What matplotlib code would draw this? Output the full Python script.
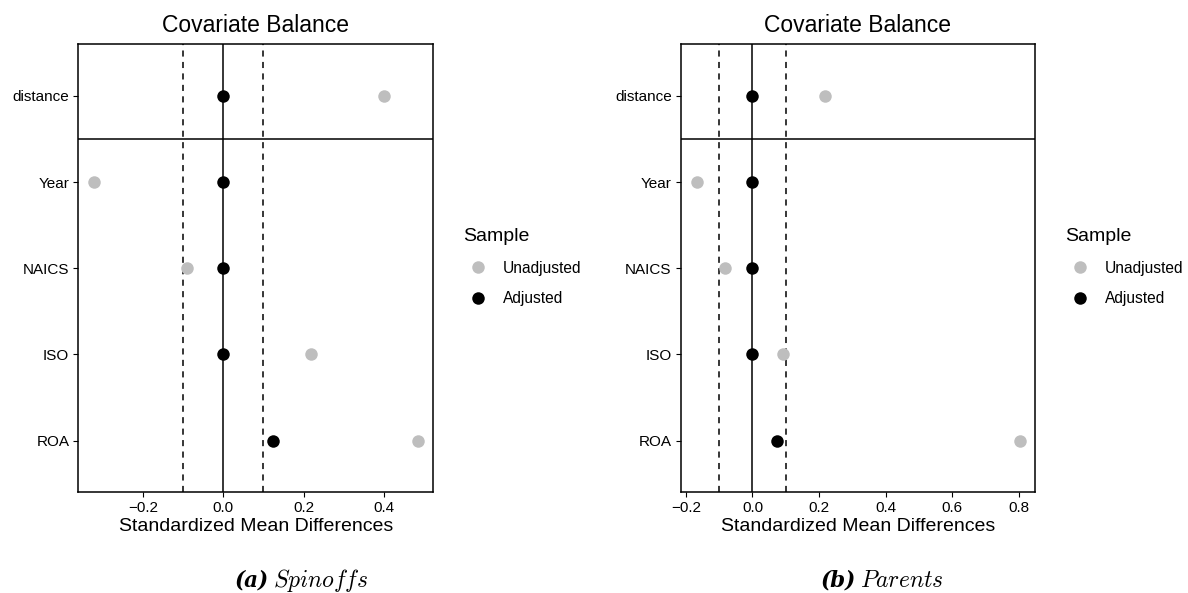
import numpy as np
import matplotlib
matplotlib.use("Agg")
import matplotlib.pyplot as plt

plt.rcParams['font.family'] = ['Liberation Sans', 'DejaVu Sans']
plt.rcParams['mathtext.fontset'] = 'cm'

covariates = ["ROA", "ISO", "NAICS", "Year", "distance"]

# standardized mean differences
spin_unadj = [0.484, 0.218, -0.091, -0.321, 0.400]
spin_adj = [0.125, 0.0, 0.0, 0.0, 0.0]
par_unadj = [0.803, 0.093, -0.083, -0.168, 0.218]
par_adj = [0.074, 0.0, 0.0, 0.0, 0.0]

spin_xlim = (-0.361, 0.523)
par_xlim = (-0.2155, 0.849)
spin_ticks = [-0.2, 0.0, 0.2, 0.4]
par_ticks = [-0.2, 0.0, 0.2, 0.4, 0.6, 0.8]
threshold = 0.1

GREY = "#BEBEBE"
W, H = 1188, 593

fig = plt.figure(figsize=(W / 100, H / 100), dpi=100, facecolor="white")


def px_rect(x0, x1, y0, y1):
    return [x0 / W, 1 - y1 / H, (x1 - x0) / W, (y1 - y0) / H]


def balance_panel(rect, unadj, adj, xlim, ticks, legend_x):
    ax = fig.add_axes(rect)
    ypos = np.arange(1, len(covariates) + 1)
    ax.axvline(0, color="black", lw=1.1, zorder=1)
    ax.axvline(-threshold, color="black", lw=1.1, ls=(0, (4, 3.5)), zorder=1)
    ax.axvline(threshold, color="black", lw=1.1, ls=(0, (4, 3.5)), zorder=1)
    ax.axhline(4.5, color="black", lw=1.1, zorder=1)
    ax.plot(unadj, ypos, "o", color=GREY, ms=9, mec="none", label="Unadjusted", zorder=3)
    ax.plot(adj, ypos, "o", color="black", ms=9, mec="none", label="Adjusted", zorder=4)
    ax.set_xlim(*xlim)
    ax.set_ylim(0.4, 5.6)
    ax.set_yticks(ypos)
    ax.set_yticklabels(covariates)
    ax.set_xticks(ticks)
    ax.tick_params(labelsize=11, colors="black", length=3.5, width=0.8, pad=3)
    for s in ax.spines.values():
        s.set_linewidth(1.1)
    ax.set_xlabel("Standardized Mean Differences", fontsize=14, labelpad=2)
    ax.set_title("Covariate Balance", fontsize=16.5, pad=9)

    leg = ax.legend(title="Sample", loc="upper left", frameon=False,
                    bbox_to_anchor=(legend_x / W, 1 - 228 / H),
                    bbox_transform=fig.transFigure,
                    fontsize=11.2, title_fontsize=14, borderpad=0, borderaxespad=0,
                    handlelength=1.92, handletextpad=0.64, labelspacing=1.0)
    leg._legend_box.align = "left"
    return ax


balance_panel(px_rect(78.3, 433.3, 44.3, 492.3), spin_unadj, spin_adj,
              spin_xlim, spin_ticks, 463)
balance_panel(px_rect(680.7, 1035.3, 44.3, 492.3), par_unadj, par_adj,
              par_xlim, par_ticks, 1065)

# sub-captions
cap_y = 1 - 581 / H
for xsplit, tag, name in [(271, "(a)", "Spinoffs"), (858, "(b)", "Parents")]:
    fig.text(xsplit / W - 0.002, cap_y, tag, ha="right", va="center",
             family="DejaVu Serif", style="italic", weight="bold", fontsize=15.5)
    fig.text(xsplit / W + 0.002, cap_y, r"$\mathit{%s}$" % name, ha="left",
             va="center", fontsize=17)

fig.savefig("out.png", dpi=100, facecolor="white")
